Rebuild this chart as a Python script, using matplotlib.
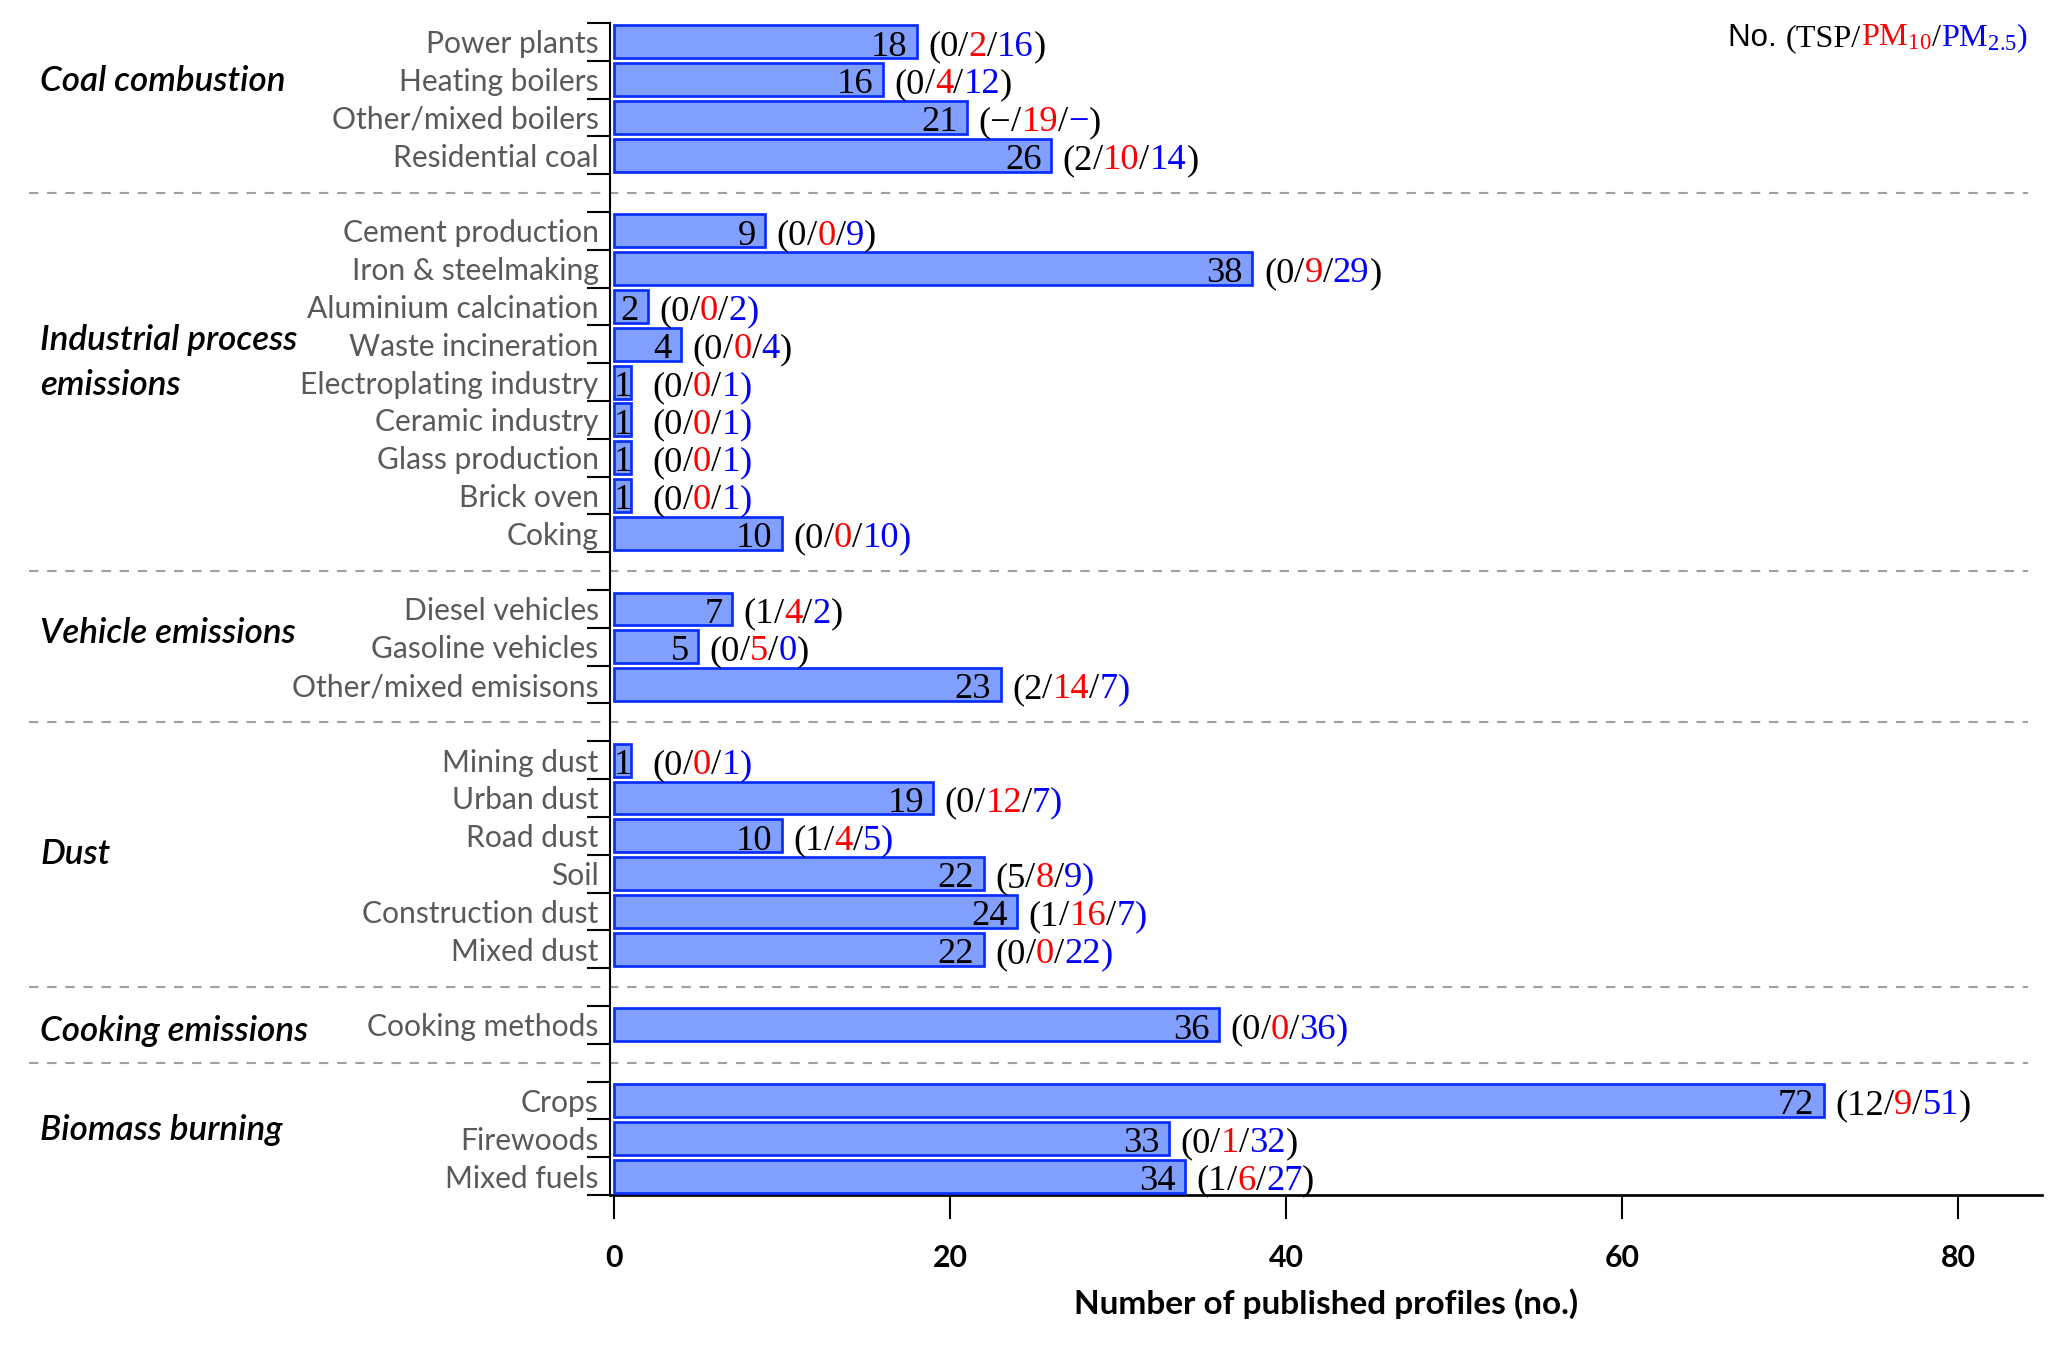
import numpy as np
import matplotlib
matplotlib.use("Agg")
import matplotlib.pyplot as plt
from matplotlib.offsetbox import TextArea, HPacker, AnnotationBbox
from matplotlib.transforms import blended_transform_factory

# --- data ---
groups = ['Coal combustion', 'Industrial process\nemissions', 'Vehicle emissions',
          'Dust', 'Cooking emissions', 'Biomass burning']
group_sizes = [4, 9, 3, 6, 1, 3]
categories = ['Power plants', 'Heating boilers', 'Other/mixed boilers', 'Residential coal',
              'Cement production', 'Iron & steelmaking', 'Aluminium calcination',
              'Waste incineration', 'Electroplating industry', 'Ceramic industry',
              'Glass production', 'Brick oven', 'Coking',
              'Diesel vehicles', 'Gasoline vehicles', 'Other/mixed emisisons',
              'Mining dust', 'Urban dust', 'Road dust', 'Soil', 'Construction dust', 'Mixed dust',
              'Cooking methods',
              'Crops', 'Firewoods', 'Mixed fuels']
totals = [18, 16, 21, 26,
          9, 38, 2, 4, 1, 1, 1, 1, 10,
          7, 5, 23,
          1, 19, 10, 22, 24, 22,
          36,
          72, 33, 34]
tsp = ['0', '0', '−', '2',
       '0', '0', '0', '0', '0', '0', '0', '0', '0',
       '1', '0', '2',
       '0', '0', '1', '5', '1', '0',
       '0',
       '12', '0', '1']
pm10 = ['2', '4', '19', '10',
        '0', '9', '0', '0', '0', '0', '0', '0', '0',
        '4', '5', '14',
        '0', '12', '4', '8', '16', '0',
        '0',
        '9', '1', '6']
pm25 = ['16', '12', '−', '14',
        '9', '29', '2', '4', '1', '1', '1', '1', '10',
        '2', '0', '7',
        '1', '7', '5', '9', '7', '22',
        '36',
        '51', '32', '27']

# colour of the closing bracket differs from row to row in the original
close_col = ['k', 'k', 'k', 'k',
             'k', 'k', 'b', 'k', 'b', 'b', 'b', 'b', 'b',
             'k', 'k', 'b',
             'b', 'b', 'b', 'b', 'b', 'b',
             'b',
             'k', 'k', 'k']

# shift of the group titles relative to group centre (in rows)
title_shift = [-0.46, -0.52, -0.36, -0.03, 0.16, -0.21]

RED = '#ff0000'
BLUE = '#0000ff'
SERIF = 'Liberation Serif'
SANS = 'Lato'

plt.rcParams['mathtext.fontset'] = 'custom'
plt.rcParams['mathtext.rm'] = SERIF
plt.rcParams['mathtext.it'] = SERIF + ':italic'
plt.rcParams['mathtext.bf'] = SERIF + ':bold'

# row positions with one empty row between groups
pos = []
gap_rows = []
centres = []
row = 0
for gi, n in enumerate(group_sizes):
    start = row
    for k in range(n):
        pos.append(row)
        row += 1
    centres.append((start + row - 1) / 2)
    if gi < len(group_sizes) - 1:
        gap_rows.append(row)
        row += 1
n_rows = row
pos = np.array(pos)

fig = plt.figure(figsize=(2067 / 150, 1351 / 150), dpi=150)
ax = fig.add_axes([0.2951, 0.1155, 0.6928, 0.8675])

ax.barh(pos, totals, height=0.87, color='#809fff', edgecolor='#0a2dff', linewidth=1.3, zorder=3)

ax.set_xlim(-0.25, 85)
ax.set_ylim(n_rows - 0.5, -0.5)

ax.spines['top'].set_visible(False)
ax.spines['right'].set_visible(False)
ax.spines['left'].set_linewidth(1.0)
ax.spines['bottom'].set_linewidth(1.3)

ax.set_xticks([0, 20, 40, 60, 80])
ax.tick_params(axis='x', direction='out', length=11.5, width=1.0, pad=12,
               labelsize=14.5)
for t in ax.get_xticklabels():
    t.set_fontfamily(SANS)
    t.set_fontweight('bold')

ax.set_yticks(pos)
ax.set_yticklabels(categories, fontfamily=SANS, fontsize=14.4, color='#595959')
ax.set_yticks(np.arange(-0.5, n_rows, 1.0), minor=True)
ax.tick_params(axis='y', which='major', length=0, pad=5.5)
ax.tick_params(axis='y', which='minor', direction='out', length=11, width=1.0)

ax.set_xlabel('Number of published profiles (no.)', fontfamily=SANS, fontsize=16,
              fontweight='bold', labelpad=8)

# dashed separators between groups, running across the label area
trans = blended_transform_factory(fig.transFigure, ax.transData)
for g in gap_rows:
    ax.plot([29 / 2067, 2028 / 2067], [g, g], transform=trans, clip_on=False,
            color='#a0a0a0', lw=1.0, dashes=(4.5, 4.2), zorder=1)

# group titles
for gi, name in enumerate(groups):
    fig.text(40 / 2067, centres[gi] + title_shift[gi], name, transform=trans,
             fontfamily=SANS, fontsize=16.8, fontstyle='italic', fontweight='semibold',
             color='black', ha='left', va='center', linespacing=1.5)

# value labels and compositions
FS = 17.5
for i, y in enumerate(pos):
    v = totals[i]
    if v < 2:
        ax.annotate(str(v), xy=(v / 2, y), xytext=(0, -2.5), textcoords='offset points',
                    ha='center', va='center', fontfamily=SERIF, fontsize=FS,
                    color='black', zorder=4)
    else:
        ax.annotate(str(v), xy=(v, y), xytext=(-4.5, -2.5), textcoords='offset points',
                    ha='right', va='center', fontfamily=SERIF, fontsize=FS,
                    color='black', zorder=4)
    parts = [('(' + tsp[i], 'black'), ('/', 'black'), (pm10[i], RED), ('/', 'black'),
             (pm25[i], BLUE), (')', BLUE if close_col[i] == 'b' else 'black')]
    boxes = [TextArea(s, textprops=dict(fontfamily=SERIF, fontsize=FS, color=c))
             for s, c in parts]
    pack = HPacker(children=boxes, align='baseline', pad=0, sep=0)
    ab = AnnotationBbox(pack, (max(v, 1.6), y), xybox=(5.5, -2.5), xycoords='data',
                        boxcoords='offset points', box_alignment=(0, 0.5),
                        frameon=False, pad=0)
    ax.add_artist(ab)

# legend-like note at top right
note = [TextArea('No. ', textprops=dict(fontfamily='Liberation Sans', fontsize=15, color='black')),
        TextArea('(TSP/', textprops=dict(fontfamily=SERIF, fontsize=15.5, color='black')),
        TextArea('PM$_{10}$', textprops=dict(fontfamily=SERIF, fontsize=15.5, color=RED)),
        TextArea('/', textprops=dict(fontfamily=SERIF, fontsize=15.5, color='black')),
        TextArea('PM$_{2.5}$)', textprops=dict(fontfamily=SERIF, fontsize=15.5, color=BLUE))]
note_pack = HPacker(children=note, align='baseline', pad=0, sep=0)
ab = AnnotationBbox(note_pack, (0.981, 0.972), xycoords='figure fraction',
                    box_alignment=(1, 0.5), frameon=False, pad=0)
fig.add_artist(ab)

fig.savefig('out.png', dpi=150)
